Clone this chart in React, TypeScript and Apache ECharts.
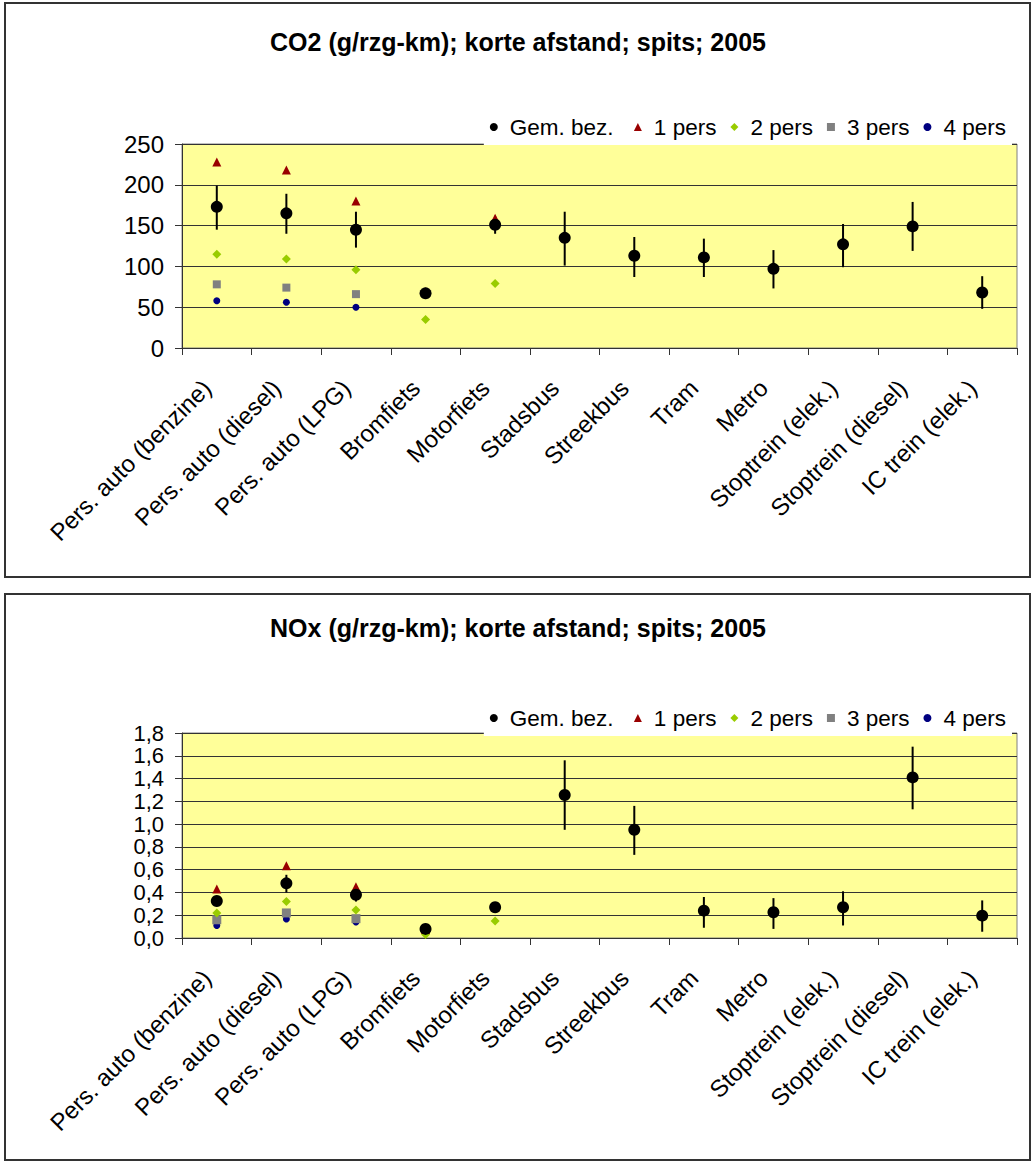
import React, { useEffect, useRef } from "react";
import * as echarts from "echarts";

const categories = [
  "Pers. auto (benzine)",
  "Pers. auto (diesel)",
  "Pers. auto (LPG)",
  "Bromfiets",
  "Motorfiets",
  "Stadsbus",
  "Streekbus",
  "Tram",
  "Metro",
  "Stoptrein (elek.)",
  "Stoptrein (diesel)",
  "IC trein (elek.)",
];

const seriesNames = ["Gem. bez.", "1 pers", "2 pers", "3 pers", "4 pers"];

// CO2 (g/rzg-km)
const co2Gem = [173, 165, 145, 67, 151, 135, 113, 111, 97, 127, 149, 68];
const co2Low = [145, 140, 123, 60, 140, 101, 87, 87, 73, 99, 119, 48];
const co2High = [199, 189, 167, 71, 162, 167, 136, 134, 120, 152, 179, 88];
const co2P1 = [228, 218, 180, 69, 159, null, null, null, null, null, null, null];
const co2P2 = [115, 109, 96, 35, 79, null, null, null, null, null, null, null];
const co2P3 = [78, 74, 66, null, null, null, null, null, null, null, null, null];
const co2P4 = [58, 56, 50, null, null, null, null, null, null, null, null, null];
const co2Ticks = { min: 0, max: 250, interval: 50 };

// NOx (g/rzg-km)
const noxGem = [0.325, 0.48, 0.38, 0.08, 0.27, 1.255, 0.95, 0.24, 0.226, 0.27, 1.41, 0.196];
const noxLow = [0.28, 0.4, 0.32, 0.07, 0.25, 0.95, 0.73, 0.09, 0.08, 0.11, 1.13, 0.055];
const noxHigh = [0.36, 0.555, 0.42, 0.09, 0.29, 1.56, 1.16, 0.36, 0.35, 0.41, 1.68, 0.33];
const noxP1 = [0.43, 0.635, 0.45, 0.075, 0.27, null, null, null, null, null, null, null];
const noxP2 = [0.22, 0.32, 0.246, 0.03, 0.15, null, null, null, null, null, null, null];
const noxP3 = [0.16, 0.22, 0.17, null, null, null, null, null, null, null, null, null];
const noxP4 = [0.11, 0.167, 0.14, null, null, null, null, null, null, null, null, null];
const noxTicks = { min: 0, max: 1.8, interval: 0.2 };

const titles = [
  "CO2 (g/rzg-km); korte afstand; spits; 2005",
  "NOx (g/rzg-km); korte afstand; spits; 2005",
];

const FONT = "Arial, 'Liberation Sans', sans-serif";

const markerStyles = [
  { symbol: "circle", color: "#000000", size: 12 },
  { symbol: "triangle", color: "#990000", size: 9 },
  { symbol: "diamond", color: "#99CC00", size: 9 },
  { symbol: "rect", color: "#808080", size: 8 },
  { symbol: "circle", color: "#000080", size: 7 },
];

function fix(arr: (number | null)[]) {
  return arr.map((v) => (v === null ? "-" : v));
}

export default function App() {
  const ref = useRef<HTMLDivElement>(null);

  useEffect(() => {
    const chart = echarts.init(ref.current!, null, { renderer: "svg" });

    const grids = [
      { left: 182, top: 144, width: 835, height: 204 },
      { left: 182, top: 733, width: 835, height: 205 },
    ];
    const ticks = [co2Ticks, noxTicks];
    const gems = [co2Gem, noxGem];
    const lows = [co2Low, noxLow];
    const highs = [co2High, noxHigh];
    const others = [
      [co2P1, co2P2, co2P3, co2P4],
      [noxP1, noxP2, noxP3, noxP4],
    ];
    const titleTops = [29, 615];
    const legendTops = [110, 701];
    const squareSizes = [8, 9];
    const yFont = [24, 22];

    const series: any[] = [];
    [0, 1].forEach((g) => {
      series.push({
        type: "custom",
        name: "err" + g,
        xAxisIndex: g,
        yAxisIndex: g,
        z: 2,
        encode: { x: 0, y: [1, 2] },
        data: categories.map((_, i) => [i, lows[g][i], highs[g][i]]),
        renderItem: (params: any, api: any) => {
          const x = api.value(0);
          const lo = api.coord([x, api.value(1)]);
          const hi = api.coord([x, api.value(2)]);
          return {
            type: "line",
            shape: { x1: lo[0], y1: lo[1], x2: hi[0], y2: hi[1] },
            style: { stroke: "#000", lineWidth: 2 },
          };
        },
      });
      const datas = [gems[g], ...others[g]];
      [4, 3, 2, 1, 0].forEach((k) => {
        const m = markerStyles[k];
        series.push({
          type: "scatter",
          name: seriesNames[k],
          xAxisIndex: g,
          yAxisIndex: g,
          symbol: m.symbol,
          symbolSize: k === 3 ? squareSizes[g] : m.size,
          itemStyle: { color: m.color, opacity: 1 },
          z: 3 + (k === 0 ? 2 : 0),
          data: fix(datas[k] as (number | null)[]),
        });
      });
    });

    const option: any = {
      animation: false,
      backgroundColor: "#ffffff",
      title: [0, 1].map((g) => ({
        text: titles[g],
        left: "center",
        top: titleTops[g],
        padding: 0,
        textStyle: { fontSize: 25, fontWeight: "bold", color: "#000", fontFamily: FONT },
      })),
      legend: [0, 1].map((g) => ({
        data: seriesNames,
        right: 24,
        top: legendTops[g],
        orient: "horizontal",
        padding: [4, 6, 5, 6],
        backgroundColor: "#ffffff",
        itemWidth: 8,
        itemHeight: 8,
        itemGap: 14,
        selectedMode: false,
        itemStyle: { opacity: 1 },
        formatter: (name: string) => (name === "Gem. bez." ? name + " " : name),
        textStyle: {
          fontSize: 22.5,
          color: "#000",
          fontFamily: FONT,
          lineHeight: 26,
          padding: [0, 0, 0, 7],
        },
      })),
      grid: grids.map((gr) => ({
        ...gr,
        show: true,
        backgroundColor: "#FFFF99",
        borderColor: "#808080",
        borderWidth: 1,
      })),
      xAxis: [0, 1].map((g) => ({
        type: "category",
        gridIndex: g,
        data: categories,
        boundaryGap: true,
        axisLine: { show: true, lineStyle: { color: "#333", width: 1 } },
        axisTick: { show: true, length: 7, lineStyle: { color: "#333" } },
        axisLabel: {
          interval: 0,
          rotate: 45,
          fontSize: 24,
          color: "#000",
          fontFamily: FONT,
          margin: 26,
          padding: [0, 14, 0, 0],
        },
        splitLine: { show: false },
      })),
      yAxis: [0, 1].map((g) => ({
        type: "value",
        gridIndex: g,
        min: ticks[g].min,
        max: ticks[g].max,
        interval: ticks[g].interval,
        axisLine: { show: true, lineStyle: { color: "#333", width: 1 } },
        axisTick: { show: true, length: 7, lineStyle: { color: "#333" } },
        axisLabel: {
          interval: 0,
          fontSize: yFont[g],
          lineHeight: yFont[g],
          color: "#000",
          fontFamily: FONT,
          margin: 18,
          showMinLabel: true,
          showMaxLabel: true,
          hideOverlap: false,
          formatter:
            g === 0
              ? (v: number) => String(Math.round(v))
              : (v: number) => v.toFixed(1).replace(".", ","),
        },
        splitLine: { show: true, lineStyle: { color: "#333", width: 1 } },
      })),
      graphic: [
        {
          type: "rect",
          shape: { x: 5, y: 3, width: 1025, height: 574 },
          style: { fill: "none", stroke: "#333", lineWidth: 2 },
          silent: true,
        },
        {
          type: "rect",
          shape: { x: 5, y: 594, width: 1025, height: 566 },
          style: { fill: "none", stroke: "#333", lineWidth: 2 },
          silent: true,
        },
      ],
      series,
    };

    chart.setOption(option);
    return () => chart.dispose();
  }, []);

  return (
    <div
      ref={ref}
      style={{ position: "absolute", left: 0, top: 0, width: 1036, height: 1164 }}
    />
  );
}
